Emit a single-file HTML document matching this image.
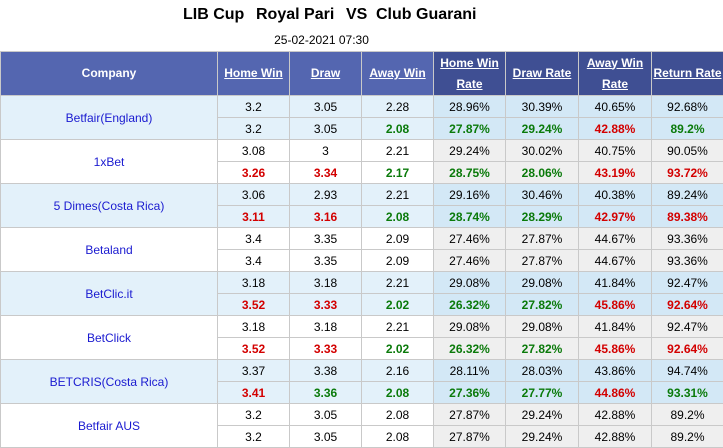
<!DOCTYPE html>
<html><head><meta charset="utf-8"><style>
body{margin:0;width:723px;height:447px;overflow:hidden;background:#fff;font-family:"Liberation Sans",Arial,sans-serif;}
.title{position:absolute;left:0;top:6px;width:723px;height:22px;}
.title span{position:absolute;font-weight:bold;font-size:16px;color:#000;top:0}
.date{position:absolute;top:33px;left:0;width:723px;text-align:center;font-size:12px;padding-left:0}
table{position:absolute;top:51px;left:0;border-collapse:collapse;width:723px;table-layout:fixed;font-size:12px;}
td,th{border:1px solid #c9c9c9;text-align:center;padding:0;}
th{background:#5466b0;color:#fff;font-size:12px;height:43px;line-height:21px;}
th.u{text-decoration:underline}
th.d{background:#3f4f93}
td{height:21px;color:#000}
td.c{color:#1a1ad0;}
tr.b td{background:#e3f1fa}
tr.b td.r{background:#d3e8f6}
tr.w td{background:#fff}
tr.w td.r{background:#efefef}
.R{color:#d30000 !important;font-weight:bold}
.G{color:#0a7a0a !important;font-weight:bold}
</style></head><body>
<div class="title">
<span style="left:183px">LIB Cup</span><span style="left:256px">Royal Pari</span><span style="left:346px">VS</span><span style="left:376px">Club Guarani</span></div>
<div class="date" style="left:-40px">25-02-2021 07:30</div>
<table>
<colgroup><col style="width:217px"><col style="width:72px"><col style="width:72px"><col style="width:72px"><col style="width:72px"><col style="width:73px"><col style="width:73px"><col style="width:72px"></colgroup>
<tr><th>Company</th><th class="u">Home Win</th><th class="u">Draw</th><th class="u">Away Win</th><th class="u d">Home Win<br>Rate</th><th class="u d">Draw Rate</th><th class="u d">Away Win<br>Rate</th><th class="u d">Return Rate</th></tr>
<tr class="b"><td class="c" rowspan="2">Betfair(England)</td><td>3.2</td><td>3.05</td><td>2.28</td><td class="r">28.96%</td><td class="r">30.39%</td><td class="r">40.65%</td><td class="r">92.68%</td></tr>
<tr class="b"><td>3.2</td><td>3.05</td><td class="G">2.08</td><td class="r G">27.87%</td><td class="r G">29.24%</td><td class="r R">42.88%</td><td class="r G">89.2%</td></tr>
<tr class="w"><td class="c" rowspan="2">1xBet</td><td>3.08</td><td>3</td><td>2.21</td><td class="r">29.24%</td><td class="r">30.02%</td><td class="r">40.75%</td><td class="r">90.05%</td></tr>
<tr class="w"><td class="R">3.26</td><td class="R">3.34</td><td class="G">2.17</td><td class="r G">28.75%</td><td class="r G">28.06%</td><td class="r R">43.19%</td><td class="r R">93.72%</td></tr>
<tr class="b"><td class="c" rowspan="2">5 Dimes(Costa Rica)</td><td>3.06</td><td>2.93</td><td>2.21</td><td class="r">29.16%</td><td class="r">30.46%</td><td class="r">40.38%</td><td class="r">89.24%</td></tr>
<tr class="b"><td class="R">3.11</td><td class="R">3.16</td><td class="G">2.08</td><td class="r G">28.74%</td><td class="r G">28.29%</td><td class="r R">42.97%</td><td class="r R">89.38%</td></tr>
<tr class="w"><td class="c" rowspan="2">Betaland</td><td>3.4</td><td>3.35</td><td>2.09</td><td class="r">27.46%</td><td class="r">27.87%</td><td class="r">44.67%</td><td class="r">93.36%</td></tr>
<tr class="w"><td>3.4</td><td>3.35</td><td>2.09</td><td class="r">27.46%</td><td class="r">27.87%</td><td class="r">44.67%</td><td class="r">93.36%</td></tr>
<tr class="b"><td class="c" rowspan="2">BetClic.it</td><td>3.18</td><td>3.18</td><td>2.21</td><td class="r">29.08%</td><td class="r">29.08%</td><td class="r">41.84%</td><td class="r">92.47%</td></tr>
<tr class="b"><td class="R">3.52</td><td class="R">3.33</td><td class="G">2.02</td><td class="r G">26.32%</td><td class="r G">27.82%</td><td class="r R">45.86%</td><td class="r R">92.64%</td></tr>
<tr class="w"><td class="c" rowspan="2">BetClick</td><td>3.18</td><td>3.18</td><td>2.21</td><td class="r">29.08%</td><td class="r">29.08%</td><td class="r">41.84%</td><td class="r">92.47%</td></tr>
<tr class="w"><td class="R">3.52</td><td class="R">3.33</td><td class="G">2.02</td><td class="r G">26.32%</td><td class="r G">27.82%</td><td class="r R">45.86%</td><td class="r R">92.64%</td></tr>
<tr class="b"><td class="c" rowspan="2">BETCRIS(Costa Rica)</td><td>3.37</td><td>3.38</td><td>2.16</td><td class="r">28.11%</td><td class="r">28.03%</td><td class="r">43.86%</td><td class="r">94.74%</td></tr>
<tr class="b"><td class="R">3.41</td><td class="G">3.36</td><td class="G">2.08</td><td class="r G">27.36%</td><td class="r G">27.77%</td><td class="r R">44.86%</td><td class="r G">93.31%</td></tr>
<tr class="w"><td class="c" rowspan="2">Betfair AUS</td><td>3.2</td><td>3.05</td><td>2.08</td><td class="r">27.87%</td><td class="r">29.24%</td><td class="r">42.88%</td><td class="r">89.2%</td></tr>
<tr class="w"><td>3.2</td><td>3.05</td><td>2.08</td><td class="r">27.87%</td><td class="r">29.24%</td><td class="r">42.88%</td><td class="r">89.2%</td></tr>
</table>
</body></html>
